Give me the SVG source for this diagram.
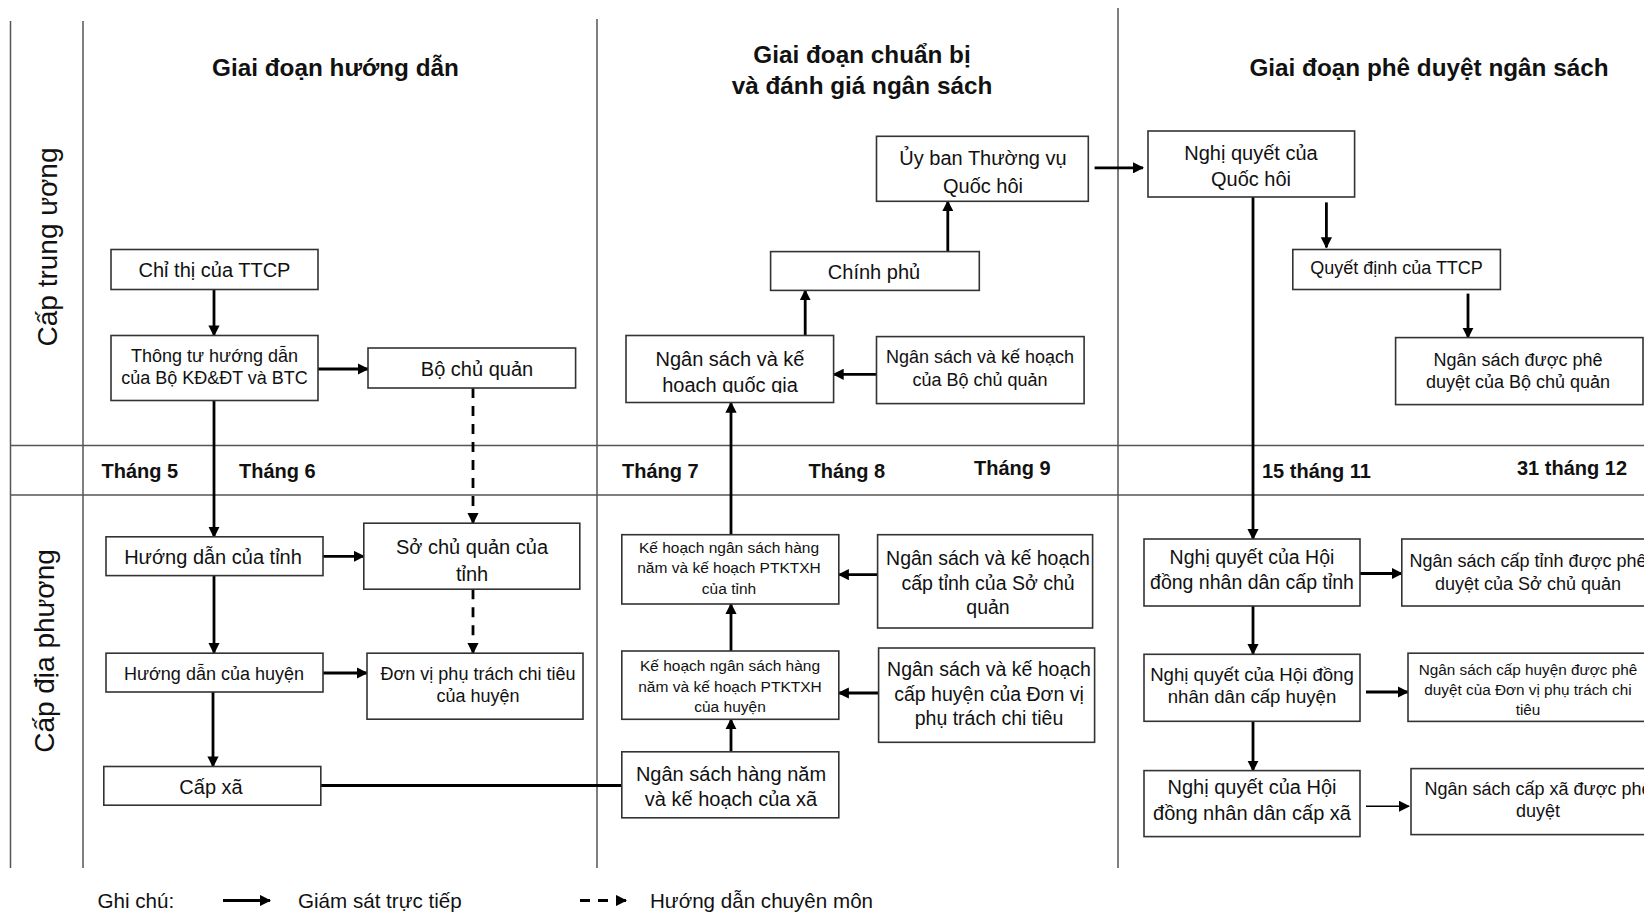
<svg xmlns="http://www.w3.org/2000/svg" width="1644" height="914" viewBox="0 0 1644 914">
<style>
  text { font-family: "Liberation Sans", Arial, sans-serif; fill: #111; dominant-baseline: central; text-anchor: middle; }
  .box { fill: #fff; stroke: #333; stroke-width: 1.6; }
  .lane { stroke: #555; stroke-width: 1.5; fill: none; }
  .c { stroke: #000; stroke-width: 2.8; fill: none; }
  .thin { stroke: #000; stroke-width: 1.6; fill: none; }
  .d { stroke: #000; stroke-width: 2.8; fill: none; stroke-dasharray: 10 8; }
  .h { font-size: 24.3px; font-weight: bold; }
  .m { font-size: 20px; font-weight: bold; text-anchor: start; }
  .lbl { font-size: 28px; }
  .t20 { font-size: 20px; }
  .t195 { font-size: 19.5px; }
  .t185 { font-size: 18.6px; }
  .t18 { font-size: 18px; }
  .t16 { font-size: 15.5px; }
  .t15 { font-size: 15.3px; }
  .leg { font-size: 20.6px; text-anchor: start; }
</style>
<defs>
  <marker id="ah" viewBox="0 0 10 10" refX="9" refY="5" markerWidth="4" markerHeight="4" orient="auto" markerUnits="strokeWidth">
    <path d="M0,0 L10,5 L0,10 Z" fill="#000"/>
  </marker>
  <marker id="ah2" viewBox="0 0 10 10" refX="9" refY="5" markerWidth="7" markerHeight="7" orient="auto" markerUnits="strokeWidth">
    <path d="M0,0 L10,5 L0,10 Z" fill="#000"/>
  </marker>
  <clipPath id="clip4"><rect x="626" y="335" width="208" height="58"/></clipPath>
</defs>
<rect x="0" y="0" width="1644" height="914" fill="#fff"/>

<g id="lanes">
  <line class="lane" x1="10.5" y1="21" x2="10.5" y2="868"/>
  <line class="lane" x1="83" y1="21" x2="83" y2="868"/>
  <line class="lane" x1="597" y1="19" x2="597" y2="868"/>
  <line class="lane" x1="1118" y1="8" x2="1118" y2="868"/>
  <line class="lane" x1="10.5" y1="445.5" x2="1644" y2="445.5"/>
  <line class="lane" x1="10.5" y1="495" x2="1644" y2="495"/>
  <text class="lbl" transform="translate(47,247) rotate(-90)">Cấp trung ương</text>
  <text class="lbl" transform="translate(44,651) rotate(-90)">Cấp địa phương</text>
  <text class="h" x="335.5" y="67">Giai đoạn hướng dẫn</text>
  <text class="h" x="862" y="54.5">Giai đoạn chuẩn bị</text>
  <text class="h" x="862" y="85">và đánh giá ngân sách</text>
  <text class="h" x="1429" y="67">Giai đoạn phê duyệt ngân sách</text>
  <text class="m" x="101.5" y="471">Tháng 5</text>
  <text class="m" x="239" y="471">Tháng 6</text>
  <text class="m" x="622" y="471">Tháng 7</text>
  <text class="m" x="808.5" y="471">Tháng 8</text>
  <text class="m" x="974" y="467.5">Tháng 9</text>
  <text class="m" x="1262" y="471">15 tháng 11</text>
  <text class="m" x="1517" y="467.5">31 tháng 12</text>
</g>

<g id="connectors">
  <line class="c" x1="214" y1="289.5" x2="214" y2="335.5" marker-end="url(#ah)"/>
  <line class="c" x1="318" y1="369" x2="368" y2="369" marker-end="url(#ah)"/>
  <line class="c" x1="214" y1="400.5" x2="214" y2="536.8" marker-end="url(#ah)"/>
  <line class="d" x1="473" y1="388" x2="473" y2="523" marker-end="url(#ah)"/>
  <line class="c" x1="323" y1="556.3" x2="363.8" y2="556.3" marker-end="url(#ah)"/>
  <line class="d" x1="473" y1="589.3" x2="473" y2="653" marker-end="url(#ah)"/>
  <line class="c" x1="214" y1="575.6" x2="214" y2="653" marker-end="url(#ah)"/>
  <line class="c" x1="323" y1="673" x2="367" y2="673" marker-end="url(#ah)"/>
  <line class="c" x1="213" y1="692" x2="213" y2="766.5" marker-end="url(#ah)"/>
  <line class="c" x1="320.8" y1="785.5" x2="621.8" y2="785.5"/>
  <line class="c" x1="731" y1="751.8" x2="731" y2="719.3" marker-end="url(#ah)"/>
  <line class="c" x1="731" y1="651" x2="731" y2="604" marker-end="url(#ah)"/>
  <line class="c" x1="731" y1="534.7" x2="731" y2="402.6" marker-end="url(#ah)"/>
  <line class="c" x1="877.6" y1="574.6" x2="838.8" y2="574.6" marker-end="url(#ah)"/>
  <line class="c" x1="878.6" y1="693" x2="838.8" y2="693" marker-end="url(#ah)"/>
  <line class="c" x1="876.5" y1="374.3" x2="833.6" y2="374.3" marker-end="url(#ah)"/>
  <line class="c" x1="805.2" y1="335.5" x2="805.2" y2="290.4" marker-end="url(#ah)"/>
  <line class="c" x1="947.8" y1="251.6" x2="947.8" y2="201.3" marker-end="url(#ah)"/>
  <line class="c" x1="1094.6" y1="167.8" x2="1143" y2="167.8" marker-end="url(#ah)"/>
  <line class="c" x1="1326.4" y1="202.4" x2="1326.4" y2="247.4" marker-end="url(#ah)"/>
  <line class="c" x1="1468" y1="293.6" x2="1468" y2="337.6" marker-end="url(#ah)"/>
  <line class="c" x1="1253" y1="197" x2="1253" y2="539" marker-end="url(#ah)"/>
  <line class="c" x1="1360" y1="573.5" x2="1401.8" y2="573.5" marker-end="url(#ah)"/>
  <line class="c" x1="1253" y1="606" x2="1253" y2="654" marker-end="url(#ah)"/>
  <line class="c" x1="1366" y1="692" x2="1408" y2="692" marker-end="url(#ah)"/>
  <line class="c" x1="1253" y1="721.4" x2="1253" y2="770.6" marker-end="url(#ah)"/>
  <line class="thin" x1="1366" y1="806.3" x2="1409" y2="806.3" marker-end="url(#ah2)"/>
</g>

<g id="n1"><rect class="box" x="111" y="249.5" width="207" height="40"/><text class="t20" x="214.5" y="269.5">Chỉ thị của TTCP</text></g>
<g id="n2"><rect class="box" x="111" y="335.5" width="207" height="65"/><text class="t18" x="214.5" y="355.5">Thông tư hướng dẫn</text><text class="t18" x="214.5" y="377.5">của Bộ KĐ&amp;ĐT và BTC</text></g>
<g id="n3"><rect class="box" x="368" y="348" width="207.6" height="40"/><text class="t20" x="477" y="369">Bộ chủ quản</text></g>
<g id="n4"><rect class="box" x="626" y="335.5" width="207.6" height="67"/><g clip-path="url(#clip4)"><text class="t20" x="730" y="358.6">Ngân sách và kế</text><text class="t20" x="730" y="385">hoạch quốc gia</text></g></g>
<g id="n5"><rect class="box" x="770.6" y="251.6" width="208.7" height="38.8"/><text class="t20" x="874" y="271.6">Chính phủ</text></g>
<g id="n6"><rect class="box" x="876.5" y="136.3" width="211.8" height="65"/><text class="t20" x="983" y="158.3">Ủy ban Thường vụ</text><text class="t20" x="983" y="185.6">Quốc hôi</text></g>
<g id="n7"><rect class="box" x="876.5" y="336.6" width="207.6" height="67"/><text class="t18" x="980" y="356.5">Ngân sách và kế hoạch</text><text class="t18" x="980" y="379.6">của Bộ chủ quản</text></g>
<g id="n8"><rect class="box" x="1148" y="131" width="206.6" height="66"/><text class="t20" x="1251" y="153">Nghị quyết của</text><text class="t20" x="1251" y="179.3">Quốc hôi</text></g>
<g id="n9"><rect class="box" x="1292.8" y="249.5" width="207.6" height="40"/><text class="t18" x="1396.5" y="268.4">Quyết định của TTCP</text></g>
<g id="n10"><rect class="box" x="1395.6" y="337.6" width="247.4" height="67"/><text class="t18" x="1518" y="359.6">Ngân sách được phê</text><text class="t18" x="1518" y="381.7">duyệt của Bộ chủ quản</text></g>

<g id="n11"><rect class="box" x="106" y="536.8" width="217" height="38.8"/><text class="t20" x="213" y="556.8">Hướng dẫn của tỉnh</text></g>
<g id="n12"><rect class="box" x="363.8" y="523.2" width="216" height="66"/><text class="t20" x="472" y="547.3">Sở chủ quản của</text><text class="t20" x="472" y="573.5">tỉnh</text></g>
<g id="n13"><rect class="box" x="106" y="653.2" width="217" height="38.8"/><text class="t18" x="214" y="674.2">Hướng dẫn của huyện</text></g>
<g id="n14"><rect class="box" x="367" y="653.2" width="216" height="66"/><text class="t18" x="478" y="674.2">Đơn vị phụ trách chi tiêu</text><text class="t18" x="478" y="696.2">của huyện</text></g>
<g id="n15"><rect class="box" x="103.8" y="766.5" width="217" height="38.7"/><text class="t20" x="211" y="787.4">Cấp xã</text></g>
<g id="n16"><rect class="box" x="621.8" y="534.7" width="217" height="69.3"/><text class="t16" x="729" y="547.3">Kế hoạch ngân sách hàng</text><text class="t16" x="729" y="567.5">năm và kế hoạch PTKTXH</text><text class="t16" x="729" y="588.2">của tỉnh</text></g>
<g id="n17"><rect class="box" x="877.6" y="534.7" width="215" height="93.3"/><text class="t195" x="988" y="557.8">Ngân sách và kế hoạch</text><text class="t195" x="988" y="583">cấp tỉnh của Sở chủ</text><text class="t195" x="988" y="607">quản</text></g>
<g id="n18"><rect class="box" x="621.8" y="651" width="217" height="68.3"/><text class="t16" x="730" y="665.8">Kế hoạch ngân sách hàng</text><text class="t16" x="730" y="686">năm và kế hoạch PTKTXH</text><text class="t16" x="730" y="706.7">của huyện</text></g>
<g id="n19"><rect class="box" x="878.6" y="648" width="216" height="94.3"/><text class="t195" x="989" y="669">Ngân sách và kế hoạch</text><text class="t195" x="989" y="694">cấp huyện của Đơn vị</text><text class="t195" x="989" y="718">phụ trách chi tiêu</text></g>
<g id="n20"><rect class="box" x="621.8" y="751.8" width="217" height="66"/><text class="t20" x="731" y="773.8">Ngân sách hàng năm</text><text class="t20" x="731" y="799">và kế hoạch của xã</text></g>
<g id="n21"><rect class="box" x="1144" y="539" width="216" height="67"/><text class="t195" x="1252" y="556.8">Nghị quyết của Hội</text><text class="t195" x="1252" y="582">đồng nhân dân cấp tỉnh</text></g>
<g id="n22"><rect class="box" x="1401.8" y="539" width="252" height="67"/><text class="t18" x="1528" y="561">Ngân sách cấp tỉnh được phê</text><text class="t18" x="1528" y="584">duyệt của Sở chủ quản</text></g>
<g id="n23"><rect class="box" x="1144" y="654.3" width="216" height="67"/><text class="t185" x="1252" y="674.2">Nghị quyết của Hội đồng</text><text class="t185" x="1252" y="696.2">nhân dân cấp huyện</text></g>
<g id="n24"><rect class="box" x="1408" y="653.2" width="242" height="68.2"/><text class="t15" x="1528" y="669">Ngân sách cấp huyện được phê</text><text class="t15" x="1528" y="689">duyệt của Đơn vị phụ trách chi</text><text class="t15" x="1528" y="709.8">tiêu</text></g>
<g id="n25"><rect class="box" x="1144" y="770.6" width="216" height="66"/><text class="t20" x="1252" y="787.4">Nghị quyết của Hội</text><text class="t20" x="1252" y="812.6">đồng nhân dân cấp xã</text></g>
<g id="n26"><rect class="box" x="1411" y="768.6" width="254" height="66"/><text class="t18" x="1538" y="788.5">Ngân sách cấp xã được phê</text><text class="t18" x="1538" y="810.5">duyệt</text></g>

<g id="legend">
  <text class="leg" x="97.5" y="900.5">Ghi chú:</text>
  <line class="c" x1="223" y1="900.5" x2="270" y2="900.5" marker-end="url(#ah)"/>
  <text class="leg" x="298" y="900.5">Giám sát trực tiếp</text>
  <line class="d" x1="580" y1="900.5" x2="626" y2="900.5" marker-end="url(#ah)"/>
  <text class="leg" x="650" y="900.5">Hướng dẫn chuyên môn</text>
</g>
</svg>
